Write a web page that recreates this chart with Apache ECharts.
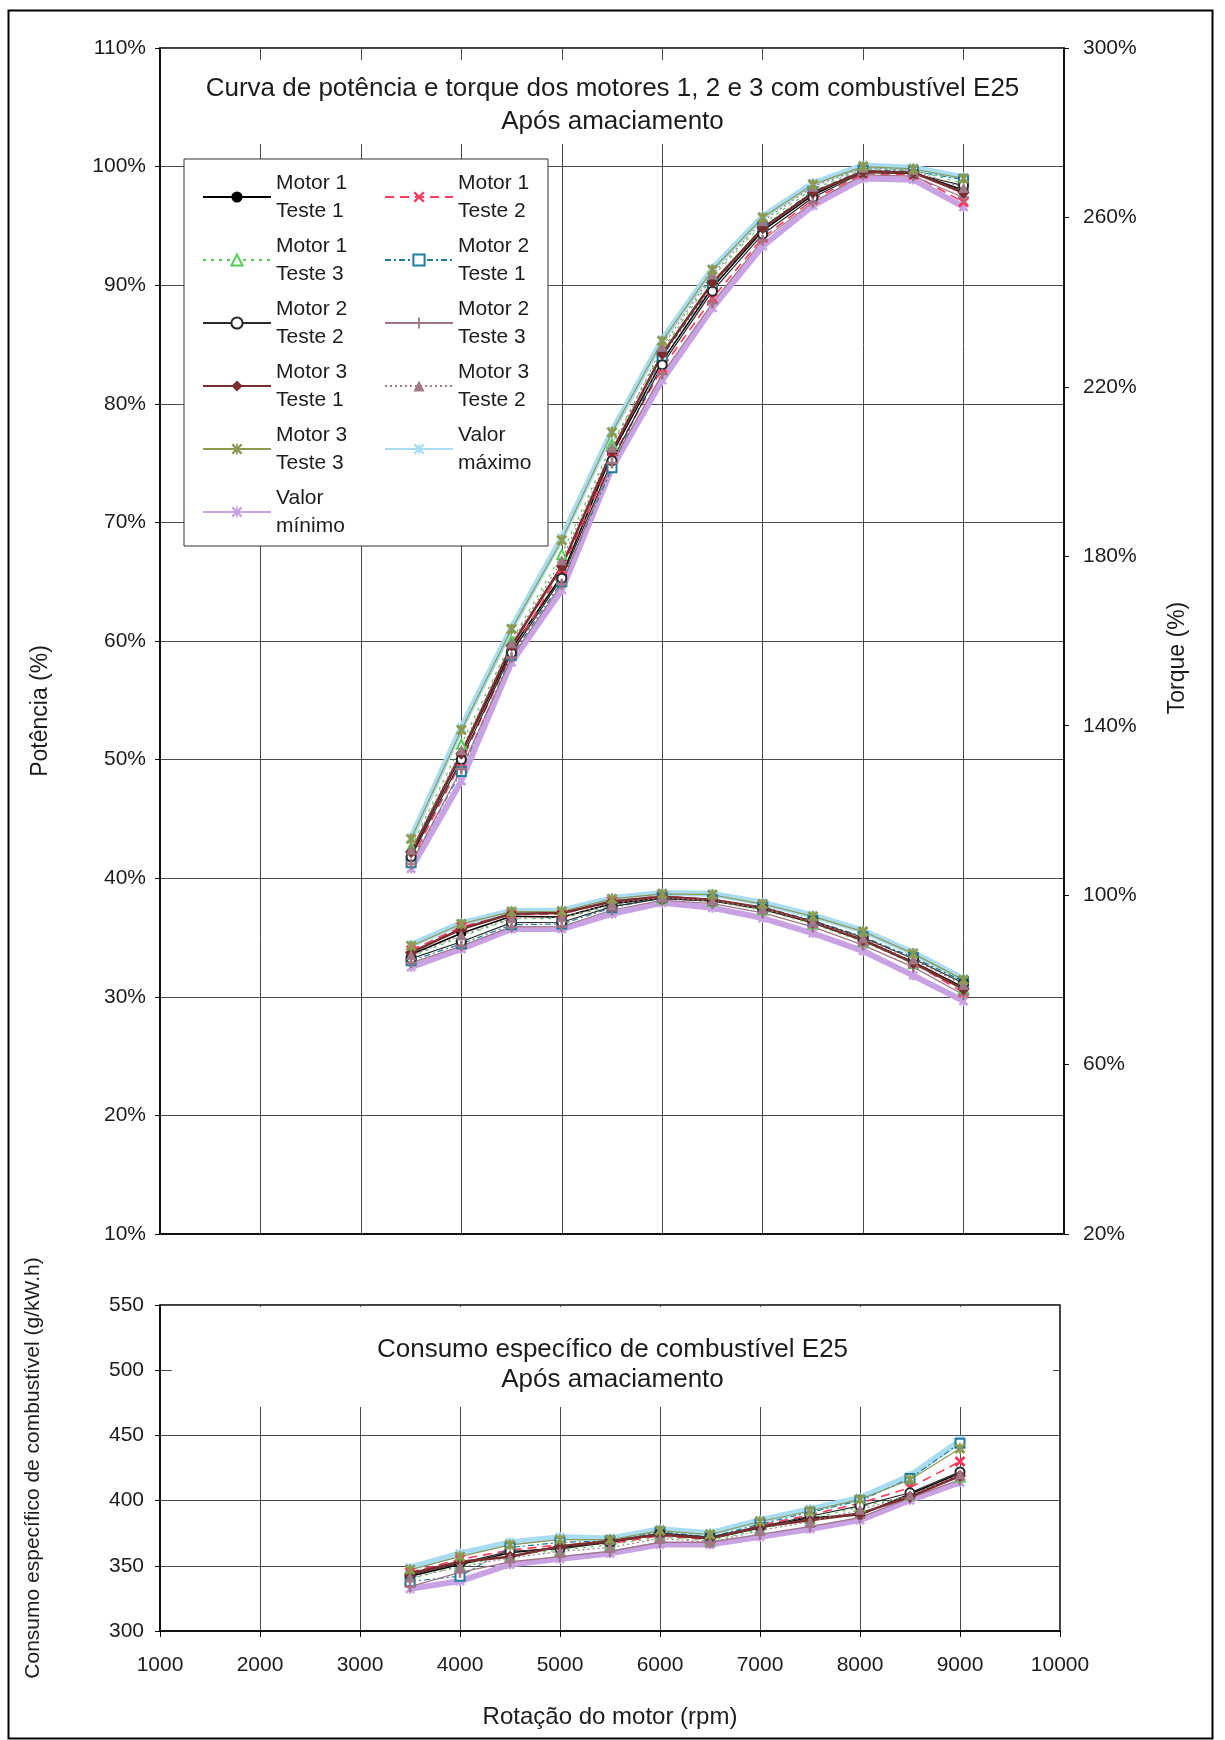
<!DOCTYPE html>
<html><head><meta charset="utf-8">
<script src="https://cdn.jsdelivr.net/npm/echarts@6/dist/echarts.min.js"></script>
<style>html,body{margin:0;padding:0;background:#fff}#c{width:1225px;height:1740px}</style>
</head><body><div id="c"></div>
<script>
// ---------- DATA ----------
const rpm = [3500, 4000, 4500, 5000, 5500, 6000, 6500, 7000, 7500, 8000, 8500, 9000];
const xTicks = [1000, 2000, 3000, 4000, 5000, 6000, 7000, 8000, 9000, 10000];
const seriesNames = ['Motor 1\nTeste 1', 'Motor 1\nTeste 2', 'Motor 1\nTeste 3', 'Motor 2\nTeste 1',
  'Motor 2\nTeste 2', 'Motor 2\nTeste 3', 'Motor 3\nTeste 1', 'Motor 3\nTeste 2', 'Motor 3\nTeste 3',
  'Valor\nmáximo', 'Valor\nmínimo'];

// Potência (%)
const powM1T1 = [42.0, 50.4, 59.3, 65.5, 75.8, 83.6, 89.8, 94.6, 97.6, 99.6, 99.5, 98.0];
const powM1T2 = [41.5, 49.8, 59.0, 66.0, 75.4, 83.0, 88.9, 94.0, 97.2, 99.4, 99.3, 97.0];
const powM1T3 = [42.6, 51.3, 60.0, 67.3, 76.6, 84.5, 90.7, 95.2, 98.1, 99.8, 99.7, 98.6];
const powM2T1 = [41.3, 49.0, 58.8, 65.0, 74.6, 84.0, 90.0, 94.9, 97.9, 99.7, 99.6, 98.9];
const powM2T2 = [41.8, 50.0, 59.0, 65.3, 75.2, 83.3, 89.5, 94.3, 97.4, 99.5, 99.4, 98.4];
const powM2T3 = [41.2, 49.2, 58.6, 64.8, 75.0, 82.5, 88.5, 93.8, 97.0, 99.3, 99.2, 97.4];
const powM3T1 = [42.2, 50.5, 59.6, 66.3, 76.0, 84.2, 90.2, 94.8, 97.8, 99.6, 99.5, 97.8];
const powM3T2 = [42.4, 50.8, 59.8, 66.8, 76.3, 84.8, 90.9, 95.4, 98.3, 99.9, 99.7, 98.2];
const powM3T3 = [43.3, 52.5, 61.0, 68.5, 77.6, 85.3, 91.3, 95.7, 98.5, 100.0, 99.8, 99.0];
const powMax  = [43.4, 52.7, 61.1, 68.7, 77.7, 85.4, 91.4, 95.8, 98.6, 100.1, 99.9, 99.1];
const powMin  = [40.8, 48.2, 58.2, 64.3, 74.6, 82.0, 88.1, 93.3, 96.7, 99.0, 98.9, 96.6];

// Torque (%)
const torM1T1 = [86.0, 91.0, 95.0, 94.8, 98.0, 99.3, 98.7, 96.7, 93.5, 89.3, 84.2, 78.2];
const torM1T2 = [87.0, 92.5, 95.5, 95.5, 98.6, 99.8, 99.0, 97.0, 93.8, 89.5, 84.0, 77.0];
const torM1T3 = [85.5, 90.2, 94.4, 94.5, 97.5, 99.1, 98.5, 96.5, 93.2, 89.0, 83.8, 78.0];
const torM2T1 = [84.5, 88.5, 93.0, 93.2, 97.0, 99.5, 98.9, 97.2, 94.0, 90.2, 85.3, 79.6];
const torM2T2 = [85.0, 89.0, 93.5, 93.6, 97.3, 99.2, 98.6, 96.9, 93.9, 90.0, 85.0, 79.2];
const torM2T3 = [84.0, 88.0, 92.5, 92.6, 96.5, 98.8, 98.0, 95.8, 92.5, 88.2, 83.0, 76.5];
const torM3T1 = [86.5, 92.0, 95.6, 95.8, 98.5, 99.6, 98.9, 97.0, 93.6, 89.4, 84.0, 77.8];
const torM3T2 = [85.8, 90.5, 94.6, 94.8, 98.0, 99.4, 98.7, 96.8, 93.7, 89.8, 84.8, 78.8];
const torM3T3 = [88.0, 93.2, 96.1, 96.2, 99.1, 100.3, 100.1, 97.9, 95.0, 91.4, 86.2, 80.0];
const torMax  = [88.3, 93.4, 96.3, 96.4, 99.3, 100.5, 100.3, 98.2, 95.2, 91.6, 86.4, 80.2];
const torMin  = [83.0, 87.3, 92.0, 92.0, 95.6, 98.2, 97.0, 94.6, 91.0, 86.8, 81.0, 75.0];

// Consumo específico (g/kW.h)
const bsM1T1 = [342, 351, 360, 364, 368, 374, 371, 379, 387, 389, 405, 421];
const bsM1T2 = [345, 355, 362, 366, 367, 373, 370, 381, 389, 398, 410, 430];
const bsM1T3 = [340, 350, 358, 362, 366, 372, 369, 378, 386, 395, 404, 418];
const bsM2T1 = [338, 342, 364, 368, 369, 376, 372, 382, 391, 400, 417, 444];
const bsM2T2 = [343, 352, 361, 363, 368, 375, 372, 380, 388, 396, 406, 422];
const bsM2T3 = [334, 345, 353, 357, 361, 368, 368, 374, 380, 387, 402, 416];
const bsM3T1 = [344, 353, 357, 365, 369, 374, 371, 380, 385, 390, 403, 419];
const bsM3T2 = [341, 349, 356, 361, 364, 371, 368, 377, 384, 393, 404, 420];
const bsM3T3 = [347, 357, 366, 370, 370, 377, 374, 384, 392, 401, 416, 440];
const bsMax  = [348.5, 359.5, 368.0, 372.0, 371.0, 378.0, 375.0, 385.0, 393.5, 402.0, 419.0, 446.0];
const bsMin  = [332.3, 338.3, 351.0, 355.3, 359.5, 366.3, 366.3, 372.3, 378.2, 385.0, 400.3, 414.0];

const powerSets  = [powM1T1, powM1T2, powM1T3, powM2T1, powM2T2, powM2T3, powM3T1, powM3T2, powM3T3, powMax, powMin];
const torqueSets = [torM1T1, torM1T2, torM1T3, torM2T1, torM2T2, torM2T3, torM3T1, torM3T2, torM3T3, torMax, torMin];
const bsfcSets   = [bsM1T1, bsM1T2, bsM1T3, bsM2T1, bsM2T2, bsM2T3, bsM3T1, bsM3T2, bsM3T3, bsMax, bsMin];

// ---------- STYLE ----------
const FONT = "'Liberation Sans', Arial, sans-serif";
const TXT = '#1c1c1c';
const X_SYM = 'path://M0,1.5L1.5,0L5,3.5L8.5,0L10,1.5L6.5,5L10,8.5L8.5,10L5,6.5L1.5,10L0,8.5L3.5,5Z';
const PLUS_SYM = 'path://M4.2,0H5.8V4.2H10V5.8H5.8V10H4.2V5.8H0V4.2H4.2Z';
const AST_SYM = 'path://M0,1.5L1.5,0L5,3.5L8.5,0L10,1.5L6.5,5L10,8.5L8.5,10L5,6.5L1.5,10L0,8.5L3.5,5Z M4.3,0H5.7V10H4.3Z';
const styles = [
  {color: '#000000', width: 1.6, type: 'solid', symbol: 'circle', size: 9, z: 4},
  {color: '#ff3a5c', width: 1.6, type: [9, 6], symbol: X_SYM, size: 10, z: 4},
  {color: '#55cc55', width: 1.2, type: [3, 5], symbol: 'emptyTriangle', size: 9, z: 4},
  {color: '#1e7c9c', width: 1.2, type: [6, 3, 2, 3], symbol: 'emptyRect', size: 9, z: 4},
  {color: '#2a2a2a', width: 1.2, type: 'solid', symbol: 'emptyCircle', size: 9, z: 4},
  {color: '#a07484', width: 1.2, type: 'solid', symbol: PLUS_SYM, size: 10, z: 4},
  {color: '#7a2e2e', width: 2.6, type: 'solid', symbol: 'diamond', size: 11, z: 4},
  {color: '#a07888', width: 1.2, type: [2, 3], symbol: 'triangle', size: 9, z: 4},
  {color: '#8c9a52', width: 1.2, type: 'solid', symbol: AST_SYM, size: 10, z: 4},
  {color: '#a8dcf2', width: 6, type: 'solid', symbol: AST_SYM, size: 9, z: 2},
  {color: '#c8a2e2', width: 6, type: 'solid', symbol: AST_SYM, size: 9, z: 2}
];

function mkSeries(sets, xIdx, yIdx) {
  return sets.map((vals, i) => {
    const s = styles[i];
    return {
      name: seriesNames[i], type: 'line', xAxisIndex: xIdx, yAxisIndex: yIdx,
      data: rpm.map((x, k) => [x, vals[k]]),
      symbol: s.symbol, symbolSize: s.size, showSymbol: true, z: s.z,
      lineStyle: {color: s.color, width: s.width, type: s.type},
      itemStyle: {color: s.color, borderColor: s.color},
      emphasis: {disabled: true}
    };
  });
}

const axisLineStyle = {color: '#000', width: 1.5};
const gridLineStyle = {color: '#4a4a4a', width: 1};
const labelStyle = {fontSize: 21, color: TXT, fontFamily: FONT};

const chart = echarts.init(document.getElementById('c'), null, {renderer: 'canvas'});
chart.setOption({
  animation: false,
  backgroundColor: '#fff',
  textStyle: {fontFamily: FONT},
  title: [
    {
      text: 'Curva de potência e torque dos motores 1, 2 e 3 com combustível E25\nApós amaciamento',
      left: 'center', top: 60, padding: [12, 30, 6, 30], backgroundColor: '#fff', z: 5,
      textStyle: {fontSize: 26, lineHeight: 33, fontWeight: 'normal', color: TXT, fontFamily: FONT}
    },
    {
      text: 'Consumo específico de combustível E25\nApós amaciamento',
      left: 'center', top: 1307, padding: [28, 205, 12, 205], backgroundColor: '#fff', z: 5,
      textStyle: {fontSize: 26, lineHeight: 30, fontWeight: 'normal', color: TXT, fontFamily: FONT}
    }
  ],
  legend: {
    data: seriesNames,
    left: 184, top: 159, width: 360, orient: 'horizontal',
    itemWidth: 68, itemHeight: 14, itemGap: 7,
    padding: [10, -11, 6, 18],
    backgroundColor: '#fff', borderColor: '#333', borderWidth: 1,
    selectedMode: false,
    textStyle: {fontSize: 21, lineHeight: 28, width: 101, color: TXT, fontFamily: FONT}
  },
  grid: [
    {left: 160, top: 48, width: 904, height: 1186, show: true, borderColor: '#000', borderWidth: 1.5},
    {left: 160, top: 1305, width: 900, height: 326, show: true, borderColor: '#000', borderWidth: 1.5}
  ],
  xAxis: [
    {
      gridIndex: 0, type: 'value', min: xTicks[0], max: xTicks[xTicks.length - 1], interval: 1000,
      axisLabel: {show: false}, axisTick: {show: false},
      axisLine: {show: true, lineStyle: axisLineStyle},
      splitLine: {show: true, lineStyle: gridLineStyle}
    },
    {
      gridIndex: 1, type: 'value', min: xTicks[0], max: xTicks[xTicks.length - 1], interval: 1000,
      axisLabel: Object.assign({margin: 24, formatter: (v) => String(v)}, labelStyle),
      axisTick: {show: true, length: 6, lineStyle: {color: '#000'}},
      axisLine: {show: true, lineStyle: axisLineStyle},
      splitLine: {show: true, lineStyle: gridLineStyle},
      name: 'Rotação do motor (rpm)', nameLocation: 'middle', nameGap: 74,
      nameTextStyle: {fontSize: 24, color: TXT, fontFamily: FONT}
    }
  ],
  yAxis: [
    {
      gridIndex: 0, type: 'value', position: 'left', min: 10, max: 110, interval: 10,
      axisLabel: Object.assign({formatter: '{value}%', margin: 14}, labelStyle),
      axisTick: {show: true, length: 5, lineStyle: {color: '#000'}},
      axisLine: {show: true, lineStyle: axisLineStyle},
      splitLine: {show: true, lineStyle: gridLineStyle},
      name: 'Potência (%)', nameLocation: 'middle', nameGap: 108,
      nameTextStyle: {fontSize: 23, color: TXT, fontFamily: FONT, padding: [0, 140, 0, 0]}
    },
    {
      gridIndex: 0, type: 'value', position: 'right', min: 20, max: 300, interval: 40,
      axisLabel: Object.assign({formatter: '{value}%', margin: 19}, labelStyle),
      axisTick: {show: true, length: 5, lineStyle: {color: '#000'}},
      axisLine: {show: true, lineStyle: axisLineStyle},
      splitLine: {show: false},
      name: 'Torque (%)', nameLocation: 'middle', nameGap: 102,
      nameTextStyle: {fontSize: 23, color: TXT, fontFamily: FONT, padding: [0, 34, 0, 0]}
    },
    {
      gridIndex: 1, type: 'value', position: 'left', min: 300, max: 550, interval: 50,
      axisLabel: Object.assign({margin: 16}, labelStyle),
      axisTick: {show: true, length: 5, lineStyle: {color: '#000'}},
      axisLine: {show: true, lineStyle: axisLineStyle},
      splitLine: {show: true, lineStyle: gridLineStyle},
      name: 'Consumo específico de combustível (g/kW.h)', nameLocation: 'middle', nameGap: 116,
      nameTextStyle: {fontSize: 21, color: TXT, fontFamily: FONT}
    }
  ],
  graphic: [
    {type: 'rect', left: 6, top: 8, shape: {width: 1204, height: 1728},
     style: {fill: 'none', stroke: '#000', lineWidth: 2}, z: 0, silent: true}
  ],
  series: [].concat(
    mkSeries(powerSets, 0, 0),
    mkSeries(torqueSets, 0, 1),
    mkSeries(bsfcSets, 1, 2)
  )
});
</script>
</body></html>
